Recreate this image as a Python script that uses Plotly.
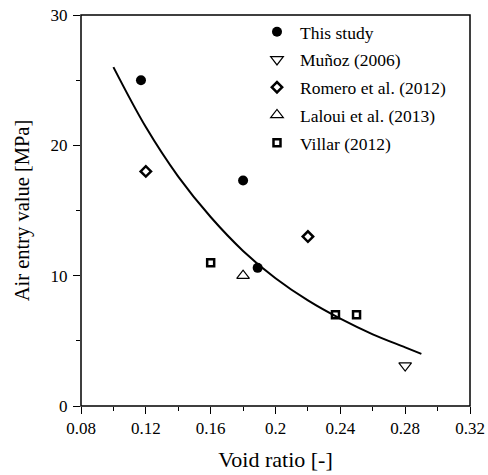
import plotly.graph_objects as go

# Data
this_x = [0.117, 0.180, 0.189]
this_y = [25.0, 17.3, 10.6]
munoz_x = [0.280]
munoz_y = [3.1]
romero_x = [0.120, 0.220]
romero_y = [18.0, 13.0]
laloui_x = [0.180]
laloui_y = [10.0]
villar_x = [0.160, 0.237, 0.250]
villar_y = [11.0, 7.0, 7.0]
fit_x = [0.10, 0.12, 0.14, 0.16, 0.18, 0.20, 0.22, 0.24, 0.26, 0.28, 0.29]
fit_y = [26.0, 21.4, 17.6, 14.5, 11.9, 9.8, 8.1, 6.7, 5.5, 4.5, 4.0]

x_tickvals = [0.08, 0.12, 0.16, 0.20, 0.24, 0.28, 0.32]
x_ticktext = ["0.08", "0.12", "0.16", "0.2", "0.24", "0.28", "0.32"]
y_tickvals = [0, 10, 20, 30]

FONT = "Liberation Serif"
fig = go.Figure()
fig.add_trace(go.Scatter(x=fit_x, y=fit_y, mode="lines", line=dict(color="black", width=2, shape="spline"),
                         showlegend=False, hoverinfo="skip"))
fig.add_trace(go.Scatter(x=this_x, y=this_y, mode="markers", name="This study", legendgroup="a",
                         marker=dict(symbol="circle", size=10, color="black")))
fig.add_trace(go.Scatter(x=munoz_x, y=munoz_y, mode="markers", name="Muñoz (2006)", legendgroup="b",
                         marker=dict(symbol="triangle-down-open", size=11, color="black", line=dict(width=1.2))))
fig.add_trace(go.Scatter(x=romero_x, y=romero_y, mode="markers", name="Romero et al. (2012)", legendgroup="c",
                         marker=dict(symbol="diamond-open", size=8, color="black", line=dict(width=2.5))))
fig.add_trace(go.Scatter(x=laloui_x, y=laloui_y, mode="markers", name="Laloui et al. (2013)", legendgroup="d",
                         marker=dict(symbol="triangle-up-open", size=11, color="black", line=dict(width=1.2))))
fig.add_trace(go.Scatter(x=villar_x, y=villar_y, mode="markers", name="Villar (2012)", legendgroup="e",
                         marker=dict(symbol="square-open", size=7, color="black", line=dict(width=2.5))))

axis_common = dict(showgrid=False, zeroline=False, showline=False,
                   ticks="outside", ticklen=7, tickwidth=1.2, tickcolor="black", automargin=False,
                   ticklabeloverflow="allow",
                   tickfont=dict(family=FONT, size=17, color="black"))
fig.update_xaxes(range=[0.08, 0.32], tickvals=x_tickvals, ticktext=x_ticktext, ticklabelstandoff=0,
                 title=dict(text="Void ratio [-]", font=dict(family=FONT, size=22, color="black"), standoff=14),
                 minor=dict(ticks="outside", ticklen=4, tickwidth=1.2, tickcolor="black", dtick=0.02, tick0=0.08),
                 **axis_common)
fig.update_yaxes(range=[0, 30], tickvals=y_tickvals, ticklabelstandoff=2,
                 title=dict(text="Air entry value [MPa]", font=dict(family=FONT, size=20.5, color="black"), standoff=15),
                 minor=dict(ticks="outside", ticklen=4, tickwidth=1.2, tickcolor="black", dtick=5, tick0=0),
                 **axis_common)
# Plot frame (box around the plotting area)
fig.add_shape(type="rect", xref="paper", yref="paper", x0=0, x1=1, y0=0, y1=1,
              line=dict(color="black", width=1.5), fillcolor="rgba(0,0,0,0)", layer="above")
fig.update_layout(width=488, height=475, margin=dict(l=81, r=18, t=15, b=69, autoexpand=False),
                  plot_bgcolor="white", paper_bgcolor="white",
                  font=dict(family=FONT, size=17, color="black"),
                  legend=dict(x=0.4447, y=1.003, xanchor="left", yanchor="top", bgcolor="rgba(0,0,0,0)",
                              itemwidth=36,
                              font=dict(family=FONT, size=17.5, color="black"), tracegroupgap=2))
# Remove the browser's default 8px body margin so the figure sits at the page's top-left corner.
fig.write_html("out.html", config={"displayModeBar": False},
               post_script="document.body.style.margin='0';")
